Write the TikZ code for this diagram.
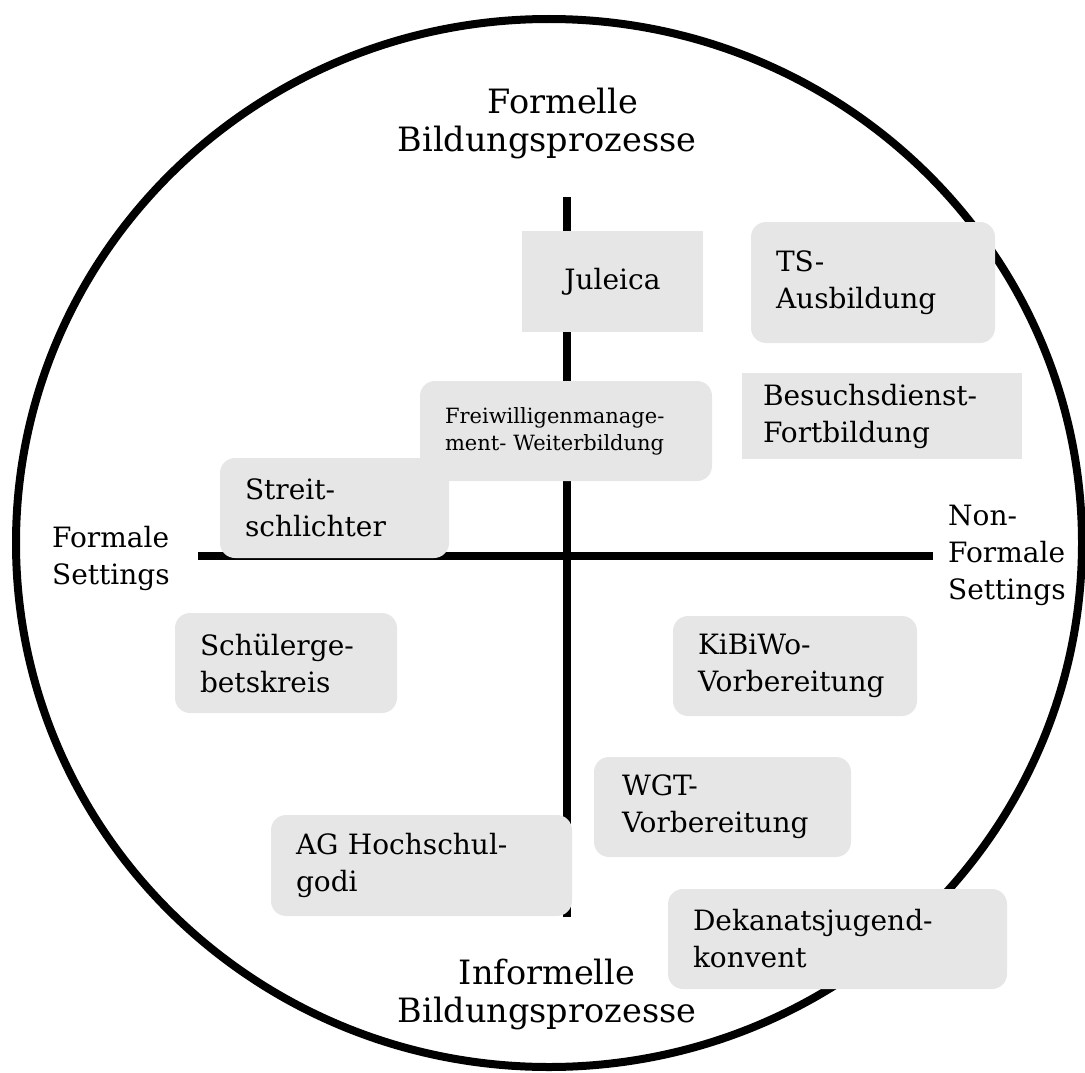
\documentclass[tikz,border=0pt]{standalone}
\usepackage{fontspec}
\setmainfont{DejaVu Serif}
\usetikzlibrary{positioning}
\definecolor{boxgray}{RGB}{230,230,230}

\begin{document}
\begin{tikzpicture}[x=1pt, y=-1pt,
        axis/.style={line width=8pt},
        tag/.style={align=left, inner sep=0pt, font=\fontsize{28}{37}\selectfont},
        bigtag/.style={align=center, inner sep=0pt, font=\fontsize{33.5}{38}\selectfont},
        box/.style={fill=boxgray, rounded corners=15pt, align=left, inner xsep=25pt, inner ysep=0pt, font=\fontsize{28}{37}\selectfont},
        sqbox/.style={box, sharp corners},
        smallbox/.style={box, font=\fontsize{21}{27}\selectfont}
      ]
      \useasboundingbox (0,0) rectangle (1085,1073);

      % circle and axes
      \draw[line width=8pt] (549,543) ellipse [x radius=533pt, y radius=524pt];
      \coordinate (N) at (567,197);
      \coordinate (S) at (567,917);
      \coordinate (W) at (198,556);
      \coordinate (E) at (933,556);
      \draw[axis] (N) -- (S);
      \draw[axis] (W) -- (E);

      % fields
      \node (Jul) [sqbox, align=center, text width=131pt, minimum height=101pt] at (612.5,281.5) {Juleica};
      \node (TS) [box, text width=194pt, minimum height=121pt] at (873,282.5) {TS-\\Ausbildung};
      \node (Bes) [sqbox, inner xsep=21pt, text width=238pt, minimum height=86pt] at (882,416) {Besuchsdienst-\\Fortbildung};
      \node (Frw) [smallbox, text width=242pt, minimum height=100pt] at (566,431) {Freiwilligenmanage-\\ment- Weiterbildung};
      \node (Str) [box, text width=179pt, minimum height=100pt] at (334.5,508) {Streit-\\schlichter};
      \node (Sch) [box, text width=172pt, minimum height=100pt] at (286,663) {Schülerge-\\betskreis};
      \node (KiB) [box, text width=194pt, minimum height=100pt] at (795,666) {KiBiWo-\\Vorbereitung};
      \node (WGT) [box, inner xsep=28pt, text width=201pt, minimum height=100pt] at (722.5,807) {WGT-\\Vorbereitung};
      \node (AG) [box, text width=251pt, minimum height=101pt] at (421.5,865.5) {AG Hochschul-\\godi};
      \node (Dek) [box, text width=289pt, minimum height=100pt] at (837.5,939) {Dekanatsjugend-\\konvent};

      % axis labels
      \node (Fb) [bigtag] at (547,123) {\hspace*{32pt}Formelle\\Bildungsprozesse};
      \node (Ib) [bigtag] at (547,994) {Informelle\\Bildungsprozesse};
      \node (Fs) [tag, anchor=west] at (52,558) {Formale\\Settings};
      \node (Ns) [tag, anchor=west] at (948,555) {Non-\\Formale\\Settings};

    \end{tikzpicture}
\end{document}
